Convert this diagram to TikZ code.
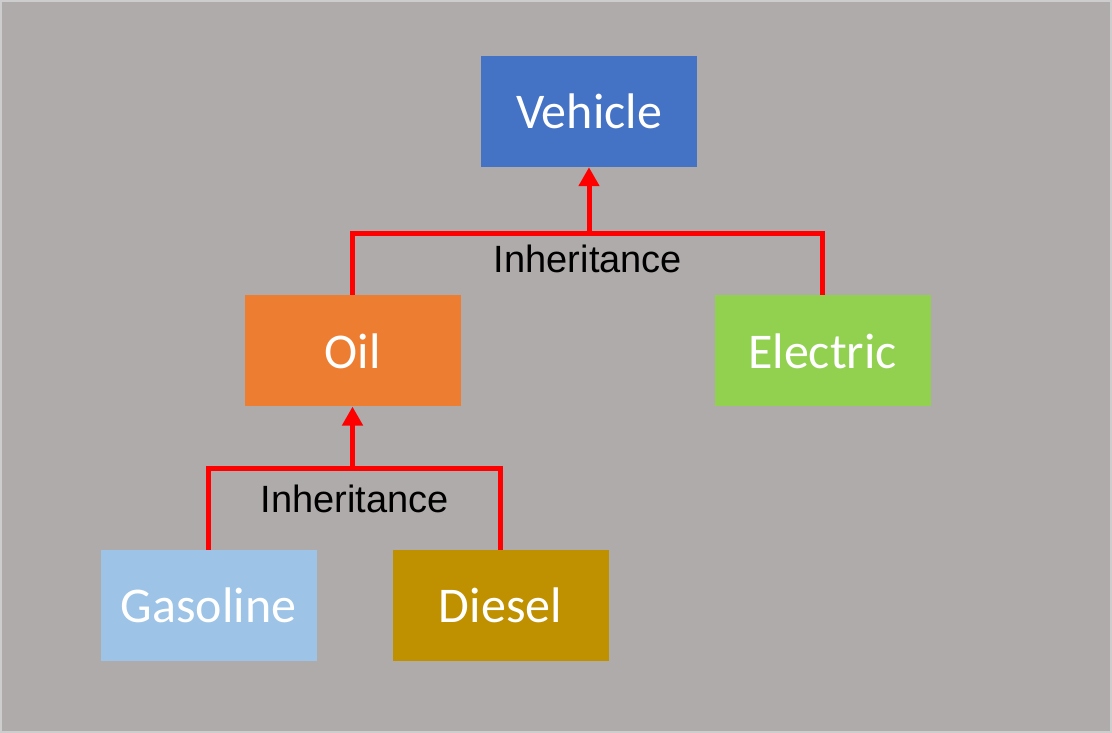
\documentclass[tikz,border=0pt]{standalone}
\usepackage{fontspec}
\setmainfont{Carlito}
\newfontfamily\labelfont{Liberation Sans}
\usetikzlibrary{arrows.meta, positioning}
\usepackage{xcolor}

\definecolor{bggray}{HTML}{AFABAA}
\definecolor{edgegray}{HTML}{CDCDCD}
\definecolor{vehblue}{HTML}{4472C4}
\definecolor{oilorange}{HTML}{ED7D31}
\definecolor{elecgreen}{HTML}{92D050}
\definecolor{gasblue}{HTML}{9DC3E6}
\definecolor{dieselgold}{HTML}{BF9000}

\begin{document}
\begin{tikzpicture}[
      x=1pt, y=-1pt,
      block/.style={rectangle, minimum width=216pt, minimum height=111pt, inner sep=0pt, text=white, font=\fontsize{50}{56}\selectfont},
      line/.style={draw=red, line width=5pt},
      arrowline/.style={line, -{Triangle[width=20pt, length=19pt]}},
      inherit/.style={font=\labelfont\fontsize{38}{44}\selectfont, anchor=base, inner sep=0pt}
  ]

  % page and frame
  \fill[bggray] (0,0) rectangle (1112,733);
  \draw[edgegray, line width=2pt] (1,1) rectangle (1111,732);

  \node [block, fill=vehblue] (vehicle) at (589,111.5) {Vehicle};
  \node [block, fill=oilorange, below=128pt of vehicle, xshift=-236.5pt] (oil) {Oil};
  \node [block, fill=elecgreen, below=128pt of vehicle, xshift=233.5pt] (electric) {Electric};
  \node [block, fill=gasblue, below=143pt of oil, xshift=-144pt] (gasoline) {Gasoline};
  \node [block, fill=dieselgold, below=143pt of oil, xshift=148pt] (diesel) {Diesel};

  \coordinate (busA) at ([yshift=-66pt]vehicle.south);
  \coordinate (busB) at ([yshift=-62pt]oil.south);

  \path [line] (oil.north) |- (busA) -| (electric.north);
  \path [arrowline] (busA) -- (vehicle.south);
  \node [inherit] (labA) at ([xshift=-1pt, yshift=-39pt]busA) {Inheritance};

  \path [line] (gasoline.north) |- (busB) -| (diesel.north);
  \path [arrowline] (busB) -- (oil.south);
  \node [inherit] (labB) at ([xshift=2pt, yshift=-44pt]busB) {Inheritance};

\end{tikzpicture}
\end{document}
